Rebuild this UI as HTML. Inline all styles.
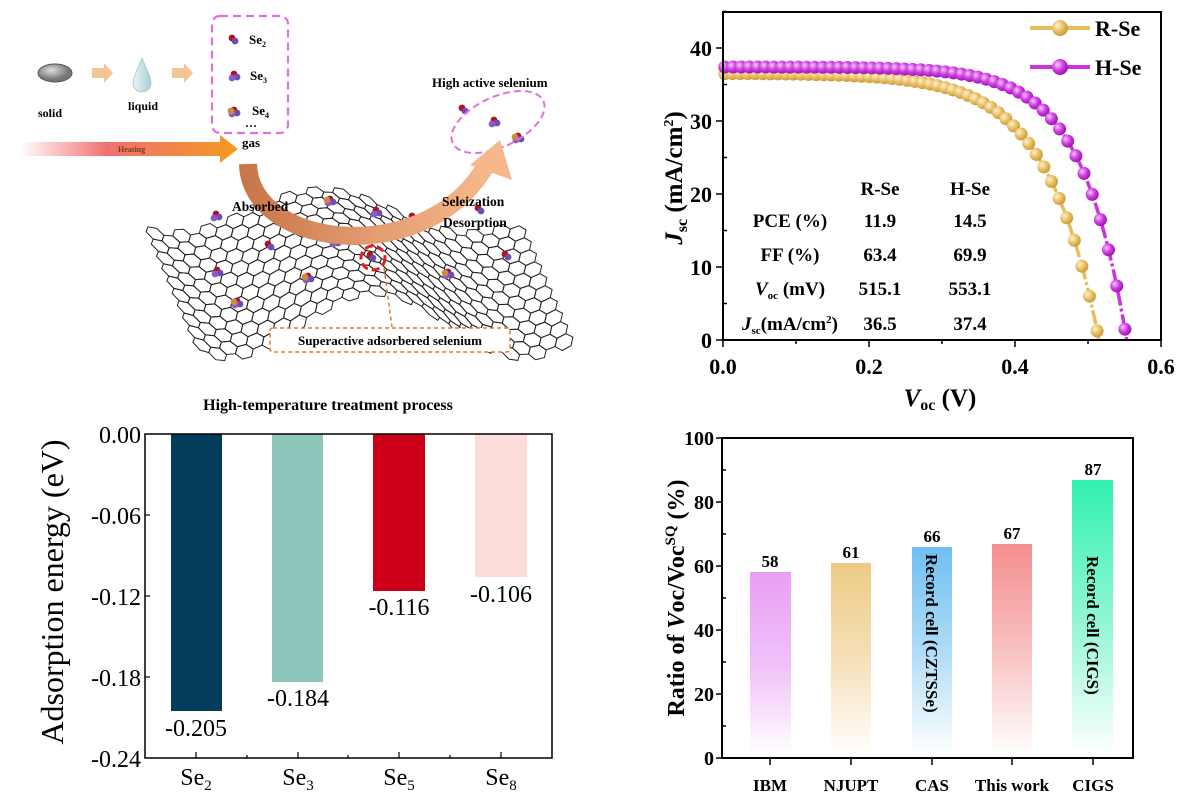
<!DOCTYPE html>
<html><head><meta charset="utf-8">
<style>
html,body{margin:0;padding:0;background:#fff;}
svg{display:block;}
text{font-family:"Liberation Serif",serif;}
.b{font-weight:bold;}
</style></head>
<body>
<svg id="s" width="1194" height="810" viewBox="0 0 1194 810" xmlns="http://www.w3.org/2000/svg">
<defs>
 <radialGradient id="gR" cx="0.35" cy="0.35" r="0.7"><stop offset="0" stop-color="#fff3d0"/><stop offset="0.5" stop-color="#eac16a"/><stop offset="1" stop-color="#c9982f"/></radialGradient>
 <radialGradient id="gH" cx="0.35" cy="0.35" r="0.7"><stop offset="0" stop-color="#f6c8ff"/><stop offset="0.5" stop-color="#cf3fe0"/><stop offset="1" stop-color="#9a10b0"/></radialGradient>
 <linearGradient id="heat" x1="0" x2="1"><stop offset="0" stop-color="#fff"/><stop offset="0.4" stop-color="#f07070"/><stop offset="1" stop-color="#f59a20"/></linearGradient>
 <linearGradient id="arc" x1="0" x2="1"><stop offset="0" stop-color="#c8774a"/><stop offset="0.5" stop-color="#e39a70"/><stop offset="1" stop-color="#f6b88a"/></linearGradient>
 <radialGradient id="gs" cx="0.4" cy="0.35"><stop offset="0" stop-color="#ddd"/><stop offset="1" stop-color="#777"/></radialGradient>
 <linearGradient id="drop" x1="0" x2="1"><stop offset="0" stop-color="#e8f4f6"/><stop offset="1" stop-color="#a9cfd6"/></linearGradient>
 <linearGradient id="b1" x1="0" y1="0" x2="0" y2="1"><stop offset="0" stop-color="#e99ef6"/><stop offset="0.5" stop-color="#f0c0f8"/><stop offset="1" stop-color="#fff"/></linearGradient>
 <linearGradient id="b2" x1="0" y1="0" x2="0" y2="1"><stop offset="0" stop-color="#eecb85"/><stop offset="0.5" stop-color="#f5e0b8"/><stop offset="1" stop-color="#fff"/></linearGradient>
 <linearGradient id="b3" x1="0" y1="0" x2="0" y2="1"><stop offset="0" stop-color="#6fbff0"/><stop offset="0.5" stop-color="#b0dcf6"/><stop offset="1" stop-color="#fff"/></linearGradient>
 <linearGradient id="b4" x1="0" y1="0" x2="0" y2="1"><stop offset="0" stop-color="#f58e8e"/><stop offset="0.5" stop-color="#f8c0c0"/><stop offset="1" stop-color="#fff"/></linearGradient>
 <linearGradient id="b5" x1="0" y1="0" x2="0" y2="1"><stop offset="0" stop-color="#30f0b0"/><stop offset="0.5" stop-color="#90f5d4"/><stop offset="1" stop-color="#fff"/></linearGradient>
</defs>

<!-- ===== Top-left schematic ===== -->
<g id="mesh" fill="none" stroke="#222" stroke-width="1"></g>
<ellipse cx="55" cy="73" rx="17" ry="9" fill="url(#gs)" stroke="#555"/>
<polygon points="92,68 104,68 104,63 113,73 104,83 104,78 92,78" fill="#f7c49a"/>
<polygon points="172,68 184,68 184,63 193,73 184,83 184,78 172,78" fill="#f7c49a"/>
<path d="M142,58 C137,70 133,78 133,83 A9,9 0 0 0 151,83 C151,78 147,70 142,58Z" fill="url(#drop)" stroke="#8fb8c0" stroke-width="0.6"/>
<text x="50" y="117" font-size="12" class="b" text-anchor="middle">solid</text>
<text x="143" y="110" font-size="12" class="b" text-anchor="middle">liquid</text>
<rect x="212" y="16" width="76" height="117" rx="8" fill="none" stroke="#e070e0" stroke-width="2.2" stroke-dasharray="8,5"/>
<g id="mols"></g>
<text x="249" y="44" font-size="13" class="b">Se<tspan font-size="8" dy="3">2</tspan></text>
<text x="250" y="80" font-size="13" class="b">Se<tspan font-size="8" dy="3">3</tspan></text>
<text x="252" y="115" font-size="13" class="b">Se<tspan font-size="8" dy="3">4</tspan></text>
<text x="245" y="127" font-size="12" class="b">…</text>
<text x="242" y="147" font-size="13" class="b">gas</text>
<polygon points="20,142 220,142 220,135 238,149 220,163 220,156 20,156" fill="url(#heat)"/>
<text x="118" y="152" font-size="8" class="b" fill="#7a3a1a">Heating</text>
<text x="432" y="87" font-size="13" class="b">High active selenium</text>
<ellipse cx="498" cy="122" rx="50" ry="25" transform="rotate(-25 498 122)" fill="none" stroke="#e070e0" stroke-width="2" stroke-dasharray="7,4"/>
<path d="M248,164 C250,250 430,270 488,162" fill="none" stroke="url(#arc)" stroke-width="18"/>
<polygon points="470,165 500,140 512,180" fill="#f6b88a"/>
<text x="232" y="211" font-size="13.5" class="b">Absorbed</text>
<text x="442" y="206" font-size="13.5" class="b">Seleization</text>
<text x="443" y="227" font-size="13.5" class="b">Desorption</text>
<circle cx="373" cy="258" r="12" fill="none" stroke="#e02020" stroke-width="3" stroke-dasharray="8,4"/>
<line x1="384" y1="268" x2="392" y2="327" stroke="#e07a30" stroke-width="1.5" stroke-dasharray="4,3"/>
<rect x="270" y="328" width="240" height="24" rx="3" fill="#fff" stroke="#e07a30" stroke-width="1.5" stroke-dasharray="4,3"/>
<text x="390" y="345" font-size="13" class="b" text-anchor="middle">Superactive adsorbered selenium</text>
<text x="328" y="410" font-size="16" class="b" text-anchor="middle">High-temperature treatment process</text>

<!-- ===== Top-right J-V ===== -->
<g id="jv"></g>
<rect x="723" y="12" width="438" height="328" fill="none" stroke="#000" stroke-width="2"/>
<g class="b" font-size="22" text-anchor="end">
<text x="712" y="348">0</text><text x="712" y="275">10</text><text x="712" y="202">20</text><text x="712" y="129">30</text><text x="712" y="56">40</text>
</g>
<g class="b" font-size="22" text-anchor="middle">
<text x="723" y="374">0.0</text><text x="869" y="374">0.2</text><text x="1015" y="374">0.4</text><text x="1161" y="374">0.6</text>
</g>
<text x="940" y="406" font-size="25" class="b" text-anchor="middle"><tspan font-style="italic">V</tspan><tspan font-size="16" dy="4">oc</tspan><tspan dy="-4"> (V)</tspan></text>
<text transform="translate(682,178) rotate(-90)" font-size="25" class="b" text-anchor="middle"><tspan font-style="italic">J</tspan><tspan font-size="16" dy="5">sc</tspan><tspan dy="-5"> (mA/cm</tspan><tspan font-size="14" dy="-9">2</tspan><tspan dy="9">)</tspan></text>
<line x1="1030" y1="28" x2="1090" y2="28" stroke="#e8bd5a" stroke-width="4"/>
<circle cx="1060" cy="28" r="8" fill="url(#gR)"/>
<line x1="1030" y1="67" x2="1090" y2="67" stroke="#cc33dd" stroke-width="4"/>
<circle cx="1060" cy="67" r="8" fill="url(#gH)"/>
<text x="1095" y="36" font-size="22" class="b">R-Se</text>
<text x="1095" y="75" font-size="22" class="b">H-Se</text>
<g class="b" font-size="19" text-anchor="middle">
<text x="880" y="195">R-Se</text><text x="970" y="195">H-Se</text>
<text x="790" y="227">PCE (%)</text><text x="880" y="227">11.9</text><text x="970" y="227">14.5</text>
<text x="790" y="261">FF (%)</text><text x="880" y="261">63.4</text><text x="970" y="261">69.9</text>
<text x="790" y="295"><tspan font-style="italic">V</tspan><tspan font-size="11" dy="4">oc</tspan><tspan dy="-4"> (mV)</tspan></text><text x="880" y="295">515.1</text><text x="970" y="295">553.1</text>
<text x="790" y="330"><tspan font-style="italic">J</tspan><tspan font-size="11" dy="4">sc</tspan><tspan dy="-4">(mA/cm</tspan><tspan font-size="11" dy="-7">2</tspan><tspan dy="7">)</tspan></text><text x="880" y="330">36.5</text><text x="970" y="330">37.4</text>
</g>

<!-- ===== Bottom-left adsorption ===== -->
<rect x="171" y="434" width="51" height="277" fill="#033d5c"/>
<rect x="272" y="434" width="51" height="248" fill="#8ec6bc"/>
<rect x="373" y="434" width="52" height="157" fill="#cc0018"/>
<rect x="475" y="434" width="52" height="143" fill="#fddcdc"/>
<rect x="145" y="434" width="407" height="324" fill="none" stroke="#000" stroke-width="1.5"/>
<g stroke="#000" stroke-width="1.2">
<line x1="145" y1="515" x2="150" y2="515"/><line x1="145" y1="596" x2="150" y2="596"/><line x1="145" y1="677" x2="150" y2="677"/>
<line x1="196" y1="758" x2="196" y2="752"/><line x1="298" y1="758" x2="298" y2="752"/><line x1="399" y1="758" x2="399" y2="752"/><line x1="501" y1="758" x2="501" y2="752"/>
<line x1="247" y1="758" x2="247" y2="755"/><line x1="348" y1="758" x2="348" y2="755"/><line x1="450" y1="758" x2="450" y2="755"/>
</g>
<g font-size="24" text-anchor="end">
<text x="141" y="443">0.00</text><text x="141" y="524">-0.06</text><text x="141" y="605">-0.12</text><text x="141" y="686">-0.18</text><text x="141" y="767">-0.24</text>
</g>
<g font-size="24" text-anchor="middle">
<text x="196" y="736">-0.205</text><text x="298" y="706">-0.184</text><text x="399" y="615">-0.116</text><text x="501" y="602">-0.106</text>
<text x="196" y="785">Se<tspan font-size="15" dy="5">2</tspan></text>
<text x="298" y="785">Se<tspan font-size="15" dy="5">3</tspan></text>
<text x="399" y="785">Se<tspan font-size="15" dy="5">5</tspan></text>
<text x="501" y="785">Se<tspan font-size="15" dy="5">8</tspan></text>
</g>
<text transform="translate(63,592) rotate(-90)" font-size="32" text-anchor="middle">Adsorption energy (eV)</text>

<!-- ===== Bottom-right ratio ===== -->
<rect x="750" y="572" width="41" height="183" fill="url(#b1)"/>
<rect x="831" y="563" width="40" height="192" fill="url(#b2)"/>
<rect x="912" y="547" width="40" height="208" fill="url(#b3)"/>
<rect x="992" y="544" width="40" height="211" fill="url(#b4)"/>
<rect x="1072" y="480" width="41" height="275" fill="url(#b5)"/>
<rect x="722" y="438" width="411" height="320" fill="none" stroke="#000" stroke-width="2"/>
<g stroke="#000" stroke-width="1.5" id="brt"></g>
<g class="b" font-size="20" text-anchor="end">
<text x="714" y="765">0</text><text x="714" y="701">20</text><text x="714" y="637">40</text><text x="714" y="573">60</text><text x="714" y="509">80</text><text x="714" y="445">100</text>
</g>
<g class="b" font-size="17" text-anchor="middle">
<text x="770" y="567">58</text><text x="851" y="558">61</text><text x="932" y="542">66</text><text x="1012" y="539">67</text><text x="1093" y="475">87</text>
<text x="770" y="791">IBM</text><text x="851" y="791">NJUPT</text><text x="932" y="791">CAS</text><text x="1012" y="791">This work</text><text x="1093" y="791">CIGS</text>
</g>
<text transform="translate(926,554) rotate(90)" font-size="17" class="b">Record cell (CZTSSe)</text>
<text transform="translate(1087,556) rotate(90)" font-size="17" class="b">Record cell (CIGS)</text>
<text transform="translate(684,598) rotate(-90)" font-size="24" class="b" text-anchor="middle">Ratio of <tspan font-style="italic">V</tspan>oc/Voc<tspan font-size="15" dy="-9">SQ</tspan><tspan dy="9">  (%)</tspan></text>
</svg>
<script>
var NS="http://www.w3.org/2000/svg";
function el(p,t,a){var e=document.createElementNS(NS,t);for(var k in a)e.setAttribute(k,a[k]);p.appendChild(e);return e;}
// mesh
var mesh=document.getElementById('mesh');
function P(u,v){return [155+370*u+50*v, 214+110*v-(22+10*v)*Math.sin(2*Math.PI*(1.25*u-0.32))];}
var rx=0.024, ry=0.06;
for(var i=0;i<=28;i++){for(var j=0;j<=10;j++){
 var cu=i*1.5*rx, cv=j*2*ry*0.866+(i%2?ry*0.866:0);
 if(cu>1.0||cv>1.0)continue;
 var pts=[];for(var k=0;k<6;k++){var a=k*Math.PI/3;var q=P(cu+rx*Math.cos(a),cv+ry*Math.sin(a));pts.push(q[0].toFixed(1)+","+q[1].toFixed(1));}
 el(mesh,'polygon',{points:pts.join(" ")});
}}
// molecules
var mols=document.getElementById('mols');
function mol(x,y,n){var c=[["#b01020",0,0],["#6a4fb0",3,3],["#8a5cc8",-2,4],["#d08a40",-3,1]];
 for(var k=0;k<n;k++)el(mols,'circle',{cx:x+c[k][1],cy:y+c[k][2],r:3.4,fill:c[k][0]});}
mol(232,38,2);mol(234,74,3);mol(234,110,4);mol(462,108,2);mol(494,120,3);mol(518,136,4);
[[258,190,2],[216,214,3],[330,199,4],[268,244,2],[335,240,3],[217,270,3],[308,276,4],[237,301,4],[376,210,3],[412,216,2],[370,255,2],[448,272,4],[505,254,2],[478,208,2]].forEach(function(m){mol(m[0],m[1],m[2]);});
// JV
var jv=document.getElementById('jv');
function X(v){return 723+v*730;} function Y(j){return 340-j*7.3;}
function curve(jsc,voc,a,col,grad,n){
 var pts=[];
 for(var v=0;v<=voc+1e-9;v+=voc/400){var j=jsc*(1-(Math.exp(v/a)-1)/(Math.exp(voc/a)-1));pts.push(X(v).toFixed(1)+","+Y(j).toFixed(1));}
 el(jv,'polyline',{points:pts.join(" "),fill:"none",stroke:col,"stroke-width":3.5,"stroke-dasharray":"14,3,3,3"});
 for(var i=0;i<n;i++){var v=0.0025+i*(voc-0.005)/(n-1);var j=jsc*(1-(Math.exp(v/a)-1)/(Math.exp(voc/a)-1));
  el(jv,'circle',{cx:X(v).toFixed(1),cy:Y(j).toFixed(1),r:6.5,fill:grad});}
}
curve(36.5,0.515,0.072,"#e8bd5a","url(#gR)",50);
curve(37.4,0.553,0.062,"#cc33dd","url(#gH)",50);
var ax=el(jv,'g',{stroke:"#000","stroke-width":1.5});
[0,0.1,0.2,0.3,0.4,0.5,0.6].forEach(function(v,i){el(ax,'line',{x1:X(v),y1:340,x2:X(v),y2:i%2?344:347});});
for(var j=0;j<=45;j+=5){el(ax,'line',{x1:723,y1:Y(j),x2:j%10?727:716,y2:Y(j)});}
// bottom-right ticks
var brt=document.getElementById('brt');
for(var t=0;t<=100;t+=10){var y=758-t*3.2;el(brt,'line',{x1:t%20?722:716,y1:y,x2:t%20?726:722,y2:y});}
[770,851,932,1012,1093].forEach(function(x){el(brt,'line',{x1:x,y1:758,x2:x,y2:765});});
</script>
</body></html>
